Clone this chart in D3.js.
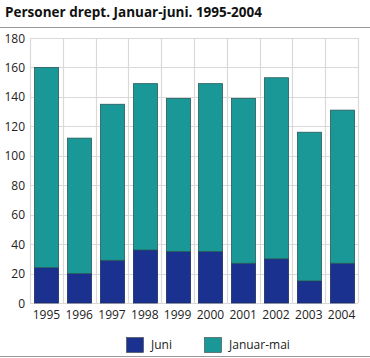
<!DOCTYPE html>
<html><head><meta charset="utf-8">
<script src="https://cdn.jsdelivr.net/npm/d3@7"></script>
<style>body{margin:0;background:#fff}svg{display:block;font-family:"Open Sans",sans-serif}</style>
</head><body><svg id="c" width="370" height="358"></svg>
<script>
const years = ["1995","1996","1997","1998","1999","2000","2001","2002","2003","2004"];
const juni = [24,20,29,36,35,35,27,30,15,27];
const janMai = [136,92,106,113,104,114,112,123,101,104];
const yTicks = [0,20,40,60,80,100,120,140,160,180];
const seriesNames = ["Juni","Januar-mai"];
const colors = ["#1a318f","#1a9797"];

const svg = d3.select("#c");
const m = {l:30, r:358, t:38, b:303};
const x = d3.scaleBand().domain(years).range([m.l, m.r]).paddingInner(0.27).paddingOuter(0.135);
const xg = d3.scaleBand().domain(years).range([m.l, m.r]);
const y = d3.scaleLinear().domain([0,180]).range([m.b, m.t]);

svg.append("text").attr("x",5).attr("y",17).attr("font-size",13.5).attr("font-weight","bold").attr("fill","#111")
  .text("Personer drept. Januar-juni. 1995-2004");
svg.append("line").attr("x1",0).attr("x2",370).attr("y1",27.5).attr("y2",27.5).attr("stroke","#999");
svg.append("line").attr("x1",0).attr("x2",370).attr("y1",356.5).attr("y2",356.5).attr("stroke","#999");

// grid
svg.append("g").selectAll("line").data(yTicks).join("line")
  .attr("x1",m.l).attr("x2",m.r).attr("y1",d=>Math.round(y(d))+0.5).attr("y2",d=>Math.round(y(d))+0.5)
  .attr("stroke","#d9d9d9").attr("stroke-width",1.2);
svg.append("g").selectAll("line").data(years.concat(["end"])).join("line")
  .attr("x1",(d,i)=>Math.round(m.l + i*xg.step())+0.5).attr("x2",(d,i)=>Math.round(m.l + i*xg.step())+0.5)
  .attr("y1",m.t).attr("y2",m.b).attr("stroke","#d9d9d9").attr("stroke-width",1.2);

// y labels
svg.append("g").selectAll("text").data(yTicks).join("text")
  .attr("x",25).attr("y",d=>y(d)+4.5).attr("text-anchor","end").attr("font-size",12).attr("fill","#222").text(d=>d);
// x labels
svg.append("g").selectAll("text").data(years).join("text")
  .attr("x",d=>xg(d)+xg.bandwidth()/2).attr("y",319).attr("text-anchor","middle").attr("font-size",12).attr("fill","#222").text(d=>d);

const stack = d3.stack().keys([0,1]).value((d,k)=>d[k]);
const rows = years.map((yr,i)=>[juni[i],janMai[i]]);
const layers = stack(rows);
layers.forEach((layer,k)=>{
  svg.append("g").selectAll("rect").data(layer).join("rect")
    .attr("x",(d,i)=>Math.round(x(years[i]))+0.5).attr("width",Math.round(x.bandwidth()))
    .attr("y",d=>y(d[1])).attr("height",d=>y(d[0])-y(d[1]))
    .attr("fill",colors[k]).attr("stroke",k===0?"#1a2a5a":"#2a5a5a").attr("stroke-width",0.8);
});

// legend
const lx = [126,204];
seriesNames.forEach((n,i)=>{
  svg.append("rect").attr("x",lx[i]+0.5).attr("y",337.5).attr("width",17).attr("height",15)
    .attr("fill",colors[i]).attr("stroke","#444").attr("stroke-width",0.6);
  svg.append("text").attr("x",lx[i]+25).attr("y",349).attr("font-size",12).attr("fill","#222").text(n);
});
</script></body></html>
